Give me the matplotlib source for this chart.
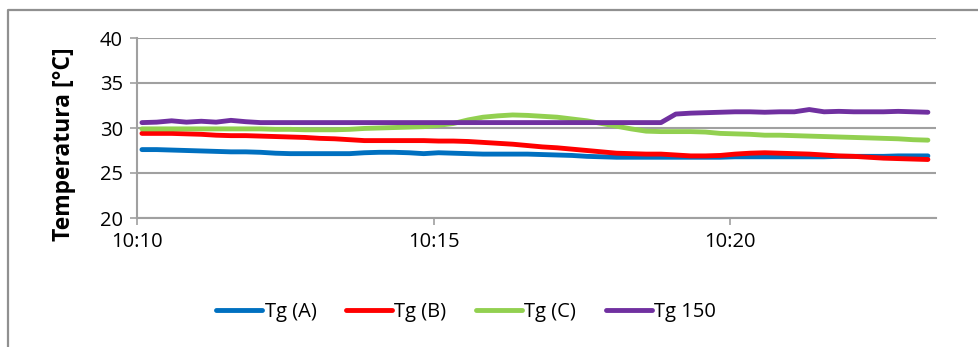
import matplotlib
matplotlib.use("Agg")
import matplotlib.pyplot as plt
from matplotlib.lines import Line2D
from matplotlib.ticker import FixedLocator, FuncFormatter

plt.rcParams["font.family"] = ["Open Sans", "DejaVu Sans"]

# time in seconds after 10:10:00
start_s = 5
step_s = 15
n_points = 54
times_min = [(start_s + i * step_s) / 60.0 for i in range(n_points)]

tg_a = [27.6, 27.6, 27.55, 27.5, 27.45, 27.4, 27.35, 27.35, 27.3, 27.2,
        27.15, 27.15, 27.15, 27.15, 27.15, 27.25, 27.3, 27.3, 27.25, 27.15,
        27.25, 27.2, 27.15, 27.1, 27.1, 27.1, 27.1, 27.05, 27.0, 26.95,
        26.85, 26.8, 26.75, 26.75, 26.75, 26.75, 26.75, 26.75, 26.75, 26.75,
        26.8, 26.8, 26.8, 26.8, 26.8, 26.8, 26.8, 26.85, 26.85, 26.85,
        26.85, 26.9, 26.9, 26.9]
tg_b = [29.4, 29.4, 29.4, 29.35, 29.3, 29.2, 29.15, 29.15, 29.1, 29.05,
        29.0, 28.95, 28.85, 28.8, 28.7, 28.6, 28.6, 28.6, 28.6, 28.6,
        28.55, 28.55, 28.5, 28.4, 28.3, 28.2, 28.05, 27.9, 27.8, 27.65,
        27.5, 27.35, 27.2, 27.15, 27.1, 27.1, 27.0, 26.9, 26.9, 26.95,
        27.1, 27.2, 27.25, 27.2, 27.15, 27.1, 27.0, 26.9, 26.85, 26.75,
        26.65, 26.6, 26.55, 26.5]
tg_c = [29.9, 29.9, 29.9, 29.9, 29.9, 29.9, 29.9, 29.9, 29.9, 29.85,
        29.85, 29.8, 29.8, 29.8, 29.85, 29.95, 30.0, 30.05, 30.1, 30.15,
        30.3, 30.5, 30.9, 31.2, 31.35, 31.45, 31.4, 31.3, 31.2, 31.0,
        30.8, 30.5, 30.2, 29.9, 29.65, 29.6, 29.6, 29.6, 29.55, 29.4,
        29.35, 29.3, 29.2, 29.2, 29.15, 29.1, 29.05, 29.0, 28.95, 28.9,
        28.85, 28.8, 28.7, 28.65]
tg_150 = [30.6, 30.65, 30.8, 30.65, 30.75, 30.65, 30.85, 30.7, 30.6, 30.6,
          30.6, 30.6, 30.6, 30.6, 30.6, 30.6, 30.6, 30.6, 30.6, 30.6,
          30.6, 30.6, 30.6, 30.6, 30.6, 30.6, 30.6, 30.6, 30.6, 30.6,
          30.6, 30.6, 30.6, 30.6, 30.6, 30.6, 31.55, 31.65, 31.7, 31.75,
          31.8, 31.8, 31.75, 31.8, 31.8, 32.05, 31.8, 31.85, 31.8, 31.8,
          31.8, 31.85, 31.8, 31.75]

series_names = ["Tg (A)", "Tg (B)", "Tg (C)", "Tg 150"]
series_colors = ["#0070C0", "#FF0000", "#92D050", "#7030A0"]
x_tick_minutes = [0, 5, 10]
x_tick_labels = ["10:10", "10:15", "10:20"]
y_ticks = [20, 25, 30, 35, 40]

W, H = 979, 347
fig = plt.figure(figsize=(W / 100, H / 100), dpi=100)
# chart-area border (only top and left visible in the reference)
fig.lines.append(Line2D([8.5 / W, 8.5 / W, 1.0], [0.0, 1 - 9.5 / H, 1 - 9.5 / H],
                        transform=fig.transFigure, color="#909090", linewidth=1.6))

ax = fig.add_axes([137 / W, 1 - 218 / H, (936 - 137) / W, 180 / H])
for vals, name, col in zip([tg_a, tg_b, tg_c, tg_150], series_names, series_colors):
    ax.plot(times_min, vals, color=col, lw=3.5, label=name,
            solid_capstyle="round", solid_joinstyle="round")

ax.set_xlim(0, 13.47)
ax.set_ylim(20, 40)
ax.set_yticks(y_ticks)
ax.xaxis.set_major_locator(FixedLocator(x_tick_minutes))
ax.xaxis.set_major_formatter(FuncFormatter(
    lambda v, p: x_tick_labels[x_tick_minutes.index(round(v))] if round(v) in x_tick_minutes else ""))

ax.grid(axis="y", color="#A0A0A0", linewidth=1.5)
ax.set_axisbelow(True)
for s in ["top", "right"]:
    ax.spines[s].set_visible(False)
for s in ["left", "bottom"]:
    ax.spines[s].set_color("#A0A0A0")
    ax.spines[s].set_linewidth(1.5)
ax.tick_params(axis="y", length=5, color="#A0A0A0", width=1.2, labelsize=14.5, pad=5)
ax.tick_params(axis="x", length=5, color="#A0A0A0", width=1.2, labelsize=14.5, pad=5)
ax.set_ylabel("Temperatura [°C]", fontsize=16.5, fontweight="bold")
ax.yaxis.set_label_coords(-0.076, 0.41)

handles, labels = ax.get_legend_handles_labels()
fig.legend(handles, labels, loc="center", bbox_to_anchor=(466 / W, 1 - 312 / H),
           ncol=4, frameon=False, fontsize=14.5, handlelength=2.3,
           handletextpad=0.12, columnspacing=1.45)

fig.savefig("out.png", dpi=100)
